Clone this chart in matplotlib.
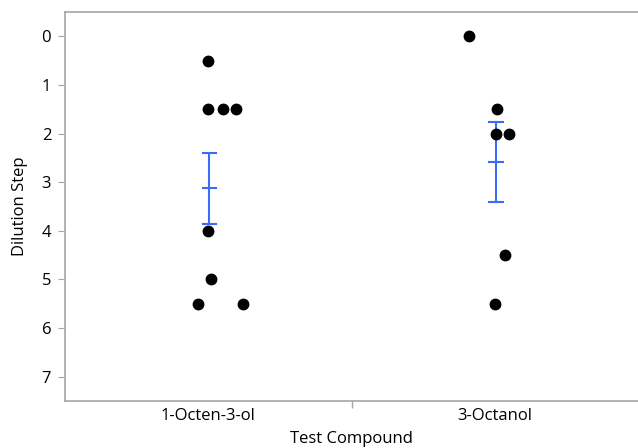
import matplotlib.pyplot as plt
import numpy as np

# data
compounds = ['1-Octen-3-ol', '3-Octanol']
octenol_steps = [0.5, 1.5, 1.5, 1.5, 4, 5, 5.5, 5.5]
octanol_steps = [0, 1.5, 2, 2, 4.5, 5.5]
# horizontal jitter of each point (category units)
octenol_jitter = [0.0, 0.0, 0.05, 0.095, 0.0, 0.01, -0.035, 0.12]
octanol_jitter = [-0.09, 0.007, 0.003, 0.05, 0.035, 0.0]

plt.rcParams['font.family'] = ['Open Sans', 'DejaVu Sans']

fig = plt.figure(figsize=(6.38, 4.48), dpi=100)
ax = fig.add_axes([0.102, 0.105, 0.898, 0.868])

grey = '#a6a6a6'
blue = '#3a6cf4'

for i, (vals, jit) in enumerate([(octenol_steps, octenol_jitter),
                                 (octanol_steps, octanol_jitter)]):
    vals = np.array(vals, dtype=float)
    ax.plot(i + np.array(jit), vals, 'o', color='black', markersize=7.5,
            zorder=3)
    # mean with standard error bars
    mean = vals.mean()
    se = vals.std(ddof=1) / np.sqrt(len(vals))
    xc = i + 0.004
    ax.plot([xc, xc], [mean - se, mean + se], color=blue, lw=1.5, zorder=2)
    for yv in (mean - se, mean, mean + se):
        ax.plot([xc - 0.023, xc + 0.023], [yv, yv], color=blue, lw=1.5,
                zorder=2)

ax.set_xlim(-0.5, 1.5)
ax.set_ylim(7.5, -0.5)
ax.set_yticks(range(8))
ax.set_xticks([0, 1])
ax.set_xticklabels(compounds)
ax.set_xticks([0.5], minor=True)

ax.tick_params(axis='y', length=5, color=grey, labelsize=12, pad=5)
ax.tick_params(axis='x', which='major', length=0, labelsize=12, pad=5)
ax.tick_params(axis='x', which='minor', length=5, color=grey, width=1)

for s in ['left', 'bottom', 'top']:
    ax.spines[s].set_color(grey)
    ax.spines[s].set_linewidth(1.2)
ax.spines['right'].set_visible(False)

ax.set_ylabel('Dilution Step', fontsize=12, labelpad=10)
ax.set_xlabel('Test Compound', fontsize=12, labelpad=5)

fig.savefig('out.png', dpi=100)
